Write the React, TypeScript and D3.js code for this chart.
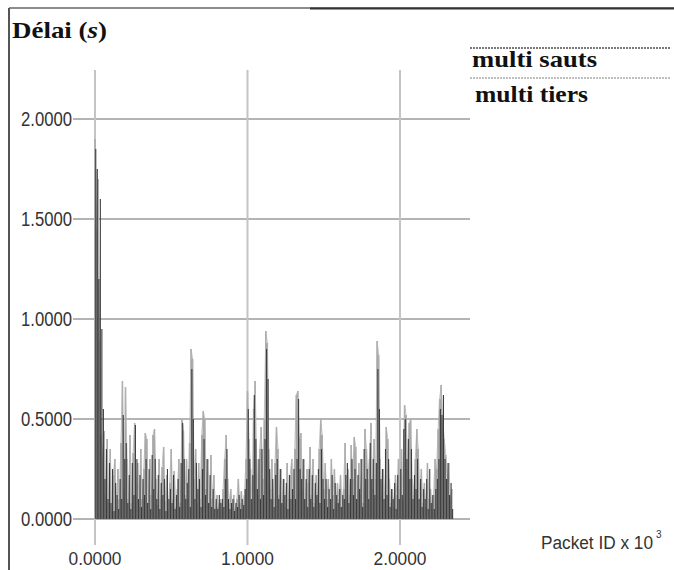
import React from "react";
import * as d3 from "d3";

// Packet ID (x 10^3) sampled every 10 packets
const PACKET_STEP = 0.01;

const yTicks = [0, 0.5, 1.0, 1.5, 2.0];
const xTicks = [0, 1.0, 2.0];
const seriesNames = ["multi sauts", "multi tiers"];

// Délai (s) — multi sauts (dark trace)
const multiSauts = [
  1.85, 1.75, 1.20, 1.60, 0.95, 0.55, 0.20, 0.35, 0.10, 0.28,
  0.08, 0.25, 0.04, 0.18, 0.12, 0.05, 0.20, 0.10, 0.52, 0.30,
  0.38, 0.08, 0.22, 0.05, 0.28, 0.12, 0.47, 0.30, 0.10, 0.22,
  0.06, 0.20, 0.12, 0.30, 0.08, 0.25, 0.05, 0.32, 0.15, 0.30,
  0.10, 0.22, 0.05, 0.18, 0.12, 0.20, 0.04, 0.25, 0.10, 0.15,
  0.08, 0.22, 0.05, 0.12, 0.20, 0.06, 0.28, 0.48, 0.30, 0.10,
  0.18, 0.25, 0.06, 0.75, 0.50, 0.10, 0.28, 0.15, 0.20, 0.06,
  0.25, 0.40, 0.12, 0.30, 0.08, 0.22, 0.06, 0.15, 0.05, 0.10,
  0.05, 0.12, 0.08, 0.10, 0.06, 0.20, 0.35, 0.10, 0.05, 0.08,
  0.10, 0.04, 0.08, 0.06, 0.12, 0.05, 0.10, 0.07, 0.15, 0.20,
  0.55, 0.30, 0.10, 0.22, 0.62, 0.40, 0.15, 0.30, 0.10, 0.35,
  0.12, 0.40, 0.85, 0.70, 0.25, 0.10, 0.20, 0.06, 0.22, 0.30,
  0.10, 0.25, 0.08, 0.20, 0.12, 0.18, 0.05, 0.22, 0.10, 0.15,
  0.25, 0.10, 0.30, 0.60, 0.25, 0.20, 0.30, 0.10, 0.20, 0.06,
  0.25, 0.10, 0.22, 0.06, 0.18, 0.12, 0.25, 0.08, 0.35, 0.20,
  0.10, 0.20, 0.06, 0.15, 0.10, 0.22, 0.05, 0.18, 0.12, 0.08,
  0.15, 0.06, 0.12, 0.10, 0.22, 0.28, 0.08, 0.20, 0.30, 0.12,
  0.25, 0.10, 0.22, 0.15, 0.30, 0.06, 0.35, 0.20, 0.25, 0.10,
  0.38, 0.20, 0.30, 0.12, 0.28, 0.75, 0.55, 0.20, 0.25, 0.10,
  0.35, 0.12, 0.30, 0.06, 0.15, 0.10, 0.18, 0.05, 0.22, 0.10,
  0.25, 0.12, 0.45, 0.50, 0.30, 0.40, 0.20, 0.35, 0.10, 0.22,
  0.15, 0.30, 0.10, 0.20, 0.06, 0.15, 0.10, 0.20, 0.05, 0.25,
  0.08, 0.12, 0.05, 0.15, 0.20, 0.30, 0.55, 0.52, 0.62, 0.30,
  0.20, 0.28, 0.12, 0.18, 0.05,
];

// Délai (s) — multi tiers (light trace)
const multiTiers = [
  1.90, 1.45, 1.70, 0.90, 0.42, 0.30, 0.44, 0.12, 0.40, 0.08,
  0.35, 0.05, 0.22, 0.30, 0.06, 0.25, 0.10, 0.38, 0.69, 0.15,
  0.66, 0.30, 0.10, 0.42, 0.08, 0.33, 0.48, 0.12, 0.28, 0.06,
  0.35, 0.10, 0.25, 0.43, 0.40, 0.08, 0.30, 0.12, 0.42, 0.45,
  0.20, 0.07, 0.30, 0.10, 0.26, 0.36, 0.09, 0.22, 0.05, 0.18,
  0.35, 0.10, 0.24, 0.06, 0.15, 0.30, 0.08, 0.50, 0.44, 0.12,
  0.30, 0.10, 0.38, 0.85, 0.80, 0.20, 0.35, 0.08, 0.28, 0.10,
  0.42, 0.54, 0.50, 0.15, 0.30, 0.08, 0.32, 0.10, 0.22, 0.05,
  0.12, 0.06, 0.10, 0.05, 0.15, 0.30, 0.42, 0.20, 0.08, 0.15,
  0.06, 0.12, 0.05, 0.10, 0.20, 0.08, 0.14, 0.05, 0.12, 0.30,
  0.64, 0.40, 0.25, 0.10, 0.55, 0.69, 0.30, 0.12, 0.35, 0.46,
  0.20, 0.50, 0.94, 0.88, 0.35, 0.15, 0.30, 0.10, 0.28, 0.46,
  0.35, 0.12, 0.25, 0.08, 0.20, 0.06, 0.28, 0.10, 0.22, 0.30,
  0.12, 0.35, 0.62, 0.64, 0.40, 0.43, 0.15, 0.30, 0.10, 0.25,
  0.18, 0.36, 0.12, 0.30, 0.08, 0.22, 0.10, 0.35, 0.50, 0.42,
  0.15, 0.28, 0.10, 0.20, 0.06, 0.30, 0.12, 0.25, 0.08, 0.18,
  0.10, 0.22, 0.06, 0.15, 0.38, 0.10, 0.25, 0.12, 0.37, 0.20,
  0.41, 0.36, 0.10, 0.28, 0.12, 0.30, 0.08, 0.45, 0.35, 0.20,
  0.30, 0.48, 0.15, 0.40, 0.20, 0.89, 0.82, 0.30, 0.12, 0.25,
  0.10, 0.46, 0.40, 0.20, 0.08, 0.15, 0.06, 0.22, 0.12, 0.30,
  0.15, 0.35, 0.10, 0.57, 0.52, 0.25, 0.48, 0.50, 0.20, 0.12,
  0.30, 0.45, 0.35, 0.10, 0.25, 0.08, 0.18, 0.06, 0.28, 0.10,
  0.15, 0.05, 0.12, 0.30, 0.25, 0.45, 0.60, 0.67, 0.50, 0.40,
  0.32, 0.20, 0.28, 0.10, 0.15,
];

const W = 674;
const H = 570;

export default function App() {
  const x = d3.scaleLinear().domain([0, 2]).range([95, 400]);
  const y = d3.scaleLinear().domain([0, 2]).range([519, 119]);
  const half = (x(PACKET_STEP) - x(0)) / 2;

  const needles = (vals: number[], dx: number) => {
    const p = d3.path();
    vals.forEach((v, i) => {
      const px = x(i * PACKET_STEP) + dx;
      p.moveTo(px, y(0));
      p.lineTo(px, y(v));
    });
    return p.toString();
  };

  const line = d3
    .line<number>()
    .x((_, i) => x(i * PACKET_STEP))
    .y((d) => y(d));

  const area = d3
    .area<number>()
    .x((_, i) => x(i * PACKET_STEP))
    .y0(y(0))
    .y1((d) => y(Math.min(d, 0.06)));

  const gridLeft = 73;
  const gridRight = 470;
  const gridTop = 70;
  const gridBottom = 545;

  const fmt = d3.format(".4f");
  const numFont = "'Liberation Sans Narrow', 'Liberation Sans', Arial, sans-serif";
  const serif = "'Liberation Serif', 'Times New Roman', serif";

  return (
    <svg
      width={W}
      height={H}
      style={{ position: "absolute", left: 0, top: 0, background: "#fff" }}
    >
      <rect x={0} y={0} width={W} height={H} fill="#fff" />
      {/* frame */}
      <line x1={9} y1={8} x2={W} y2={8} stroke="#666" strokeWidth={1.5} />
      <line x1={310} y1={8.5} x2={W} y2={8.5} stroke="#333" strokeWidth={2} />
      <line x1={9} y1={8} x2={9} y2={H} stroke="#555" strokeWidth={2} />

      {/* title */}
      <text
        x={12}
        y={38}
        fontFamily={serif}
        fontWeight="bold"
        fontSize={23}
        fill="#111"
        textLength={95}
        lengthAdjust="spacingAndGlyphs"
      >
        Délai (<tspan fontStyle="italic">s</tspan>)
      </text>

      {/* horizontal grid */}
      {yTicks.map((t) => (
        <g key={"gy" + t}>
          <line
            x1={gridLeft}
            x2={gridRight}
            y1={y(t)}
            y2={y(t)}
            stroke="#b4b4b4"
            strokeWidth={2}
          />
          <text
            x={72}
            y={y(t) + 7}
            textAnchor="end"
            fontFamily={numFont}
            fontSize={20}
            fill="#333"
            textLength={51}
            lengthAdjust="spacingAndGlyphs"
          >
            {fmt(t)}
          </text>
        </g>
      ))}

      {/* vertical grid */}
      {xTicks.map((t) => (
        <g key={"gx" + t}>
          <line
            x1={x(t)}
            x2={x(t)}
            y1={gridTop}
            y2={gridBottom}
            stroke="#c4c4c4"
            strokeWidth={2}
          />
          <text
            x={x(t)}
            y={565}
            textAnchor="middle"
            fontFamily={numFont}
            fontSize={18}
            fill="#333"
            textLength={53}
            lengthAdjust="spacingAndGlyphs"
          >
            {fmt(t)}
          </text>
        </g>
      ))}

      {/* base band */}
      <path d={area(multiTiers) || ""} fill="#c4c4c4" />
      {/* series: multi tiers (light) */}
      <path d={needles(multiTiers, 0)} fill="none" stroke="#a6a6a6" strokeWidth={1.5} />
      <path d={line(multiTiers) || ""} fill="none" stroke="#b0b0b0" strokeWidth={0.8} />
      {/* series: multi sauts (dark) */}
      <path d={needles(multiSauts, half)} fill="none" stroke="#3c3c3c" strokeWidth={1.1} />

      {/* legend */}
      <line x1={470} x2={670} y1={48} y2={48} stroke="#7a7a7a" strokeWidth={2} strokeDasharray="2 1" />
      <text
        x={472}
        y={67}
        fontFamily={serif}
        fontWeight="bold"
        fontSize={23}
        fill="#111"
        textLength={125}
        lengthAdjust="spacingAndGlyphs"
      >
        {seriesNames[0]}
      </text>
      <line x1={470} x2={670} y1={78} y2={78} stroke="#aaa" strokeWidth={1.5} strokeDasharray="2 1" />
      <text
        x={475}
        y={102}
        fontFamily={serif}
        fontWeight="bold"
        fontSize={23}
        fill="#111"
        textLength={113}
        lengthAdjust="spacingAndGlyphs"
      >
        {seriesNames[1]}
      </text>

      {/* x axis title */}
      <text x={541} y={549} fontFamily={numFont} fontSize={18} fill="#333">
        <tspan textLength={112} lengthAdjust="spacingAndGlyphs">
          Packet ID x 10
        </tspan>
        <tspan dx={3} dy={-11} fontSize={10}>
          3
        </tspan>
      </text>
    </svg>
  );
}
